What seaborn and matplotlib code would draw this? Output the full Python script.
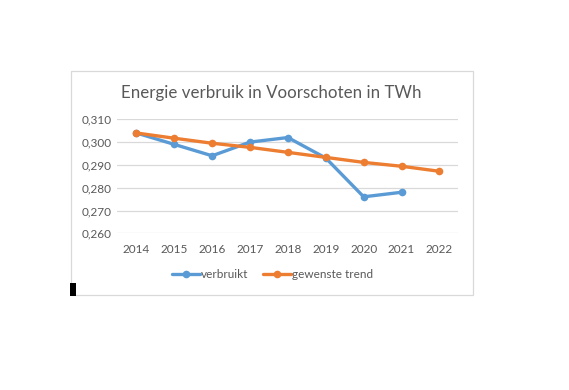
import pandas as pd
import numpy as np
import seaborn as sns
import matplotlib as mpl
import matplotlib.pyplot as plt
from matplotlib.patches import Rectangle

# data
jaren = ['2014', '2015', '2016', '2017', '2018', '2019', '2020', '2021', '2022']
verbruikt = [0.304, 0.299, 0.294, 0.300, 0.302, 0.293, 0.276, 0.278, np.nan]
gewenste_trend = [0.304, 0.3017, 0.2995, 0.2977, 0.2955, 0.2933, 0.2911, 0.2894, 0.2872]
y_ticks = [0.260, 0.270, 0.280, 0.290, 0.300, 0.310]
series_names = ['verbruikt', 'gewenste trend']
kleuren = ['#5B9BD5', '#ED7D31']

df = pd.DataFrame({'jaar': jaren * 2,
                   'x': list(range(len(jaren))) * 2,
                   'waarde': verbruikt + gewenste_trend,
                   'reeks': [series_names[0]] * len(jaren) + [series_names[1]] * len(jaren)})
df = df.dropna()

sns.set_style('white')
plt.rcParams['font.family'] = ['Lato', 'DejaVu Sans']
grijs = '#595959'

fig = plt.figure(figsize=(5.69, 3.9), dpi=100)
# chart frame like the spreadsheet chart area
fig.patches.append(Rectangle((70.5 / 569, 1 - 295 / 390), 403 / 569, 224.5 / 390,
                             transform=fig.transFigure, fill=False,
                             edgecolor='#d9d9d9', linewidth=0.9))
fig.patches.append(Rectangle((70 / 569, 1 - 296 / 390), 6 / 569, 13 / 390,
                             transform=fig.transFigure, facecolor='black',
                             edgecolor='none'))

ax = fig.add_axes([117.4 / 569, 1 - 233.3 / 390, 341 / 569, 114 / 390])
sns.lineplot(data=df, x='x', y='waarde', hue='reeks', palette=kleuren,
             marker='o', markersize=5.5, markeredgewidth=0, linewidth=2.4,
             sort=False, ax=ax, legend=False, zorder=3)

ax.set_xlim(-0.5, len(jaren) - 0.5)
ax.set_ylim(0.260, 0.310)
ax.set_xticks(range(len(jaren)))
ax.set_xticklabels(jaren)
ax.set_yticks(y_ticks)
ax.set_yticklabels([f'{v:.3f}'.replace('.', ',') for v in y_ticks])
ax.tick_params(axis='both', length=0, labelsize=8.5, colors=grijs)
ax.tick_params(axis='y', pad=4)
ax.tick_params(axis='x', pad=8)
ax.set_xlabel('')
ax.set_ylabel('')
ax.grid(axis='y', color='#d9d9d9', linewidth=0.9)
for s in ax.spines.values():
    s.set_visible(False)
for ln in ax.lines:
    ln.set_clip_on(False)

fig.text(271.5 / 569, 1 - 93 / 390, 'Energie verbruik in Voorschoten in TWh',
         ha='center', va='center', fontsize=12.2, color=grijs)

handles = [mpl.lines.Line2D([], [], color=c, marker='o', markersize=5.5,
                            markeredgewidth=0, linewidth=2.4) for c in kleuren]
fig.legend(handles, series_names, loc='center', bbox_to_anchor=(272.5 / 569, 1 - 275 / 390),
           ncol=2, frameon=False, fontsize=8.5, labelcolor=grijs,
           handlelength=2.4, handletextpad=0.1, columnspacing=1.2)

fig.savefig('out.png', dpi=100, facecolor='white')
